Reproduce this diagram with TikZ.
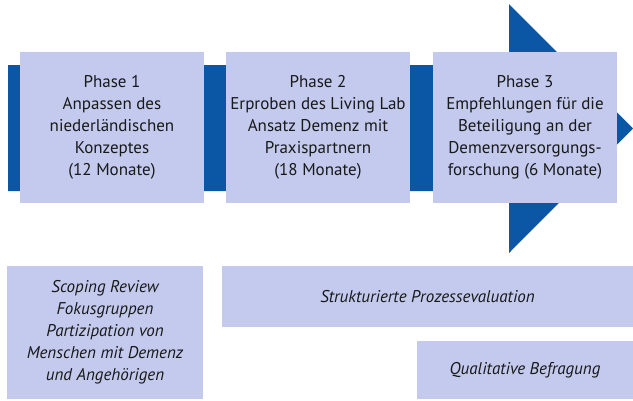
\documentclass[tikz,border=0pt]{standalone}
\usepackage{fontspec}
\setmainfont{PT Sans}
\definecolor{darkblue}{HTML}{0C57A5}
\definecolor{lightbox}{HTML}{C3CAEE}
\begin{document}
\begin{tikzpicture}[x=1pt,y=-1pt,
  box/.style={fill=lightbox,draw=none,inner sep=0pt,align=center,anchor=center,
    font=\fontsize{17}{22}\selectfont,text=black!90},
  ibox/.style={box,font=\fontsize{17}{22}\selectfont\itshape}]
\useasboundingbox (0,0) rectangle (633,400);
\fill[darkblue] (8,65) -- (509,65) -- (509,4) -- (633,128.5) -- (509,253) -- (509,191) -- (8,191) -- cycle;
\node[box,minimum width=184pt,minimum height=151pt] (p1) at (112,127.5)
  {Phase 1\\Anpassen des\\niederländischen\\Konzeptes\\(12 Monate)};
\node[box,minimum width=184pt,minimum height=151pt] (p2) at (318,127.5)
  {Phase 2\\Erproben des Living Lab\\Ansatz Demenz mit\\Praxispartnern\\(18 Monate)};
\node[box,minimum width=184pt,minimum height=151pt] (p3) at (525,127.5)
  {Phase 3\\Empfehlungen für die\\Beteiligung an der\\Demenzversorgungs-\\forschung (6 Monate)};
\node[ibox,minimum width=196pt,minimum height=133pt] (a) at (105,332.5)
  {Scoping Review\\Fokusgruppen\\Partizipation von\\Menschen mit Demenz\\und Angehörigen};
\node[ibox,minimum width=411pt,minimum height=61pt] (b) at (427.5,296.5)
  {Strukturierte Prozessevaluation};
\node[ibox,minimum width=216pt,minimum height=58pt] (c) at (525,370)
  {Qualitative Befragung};
\end{tikzpicture}
\end{document}
